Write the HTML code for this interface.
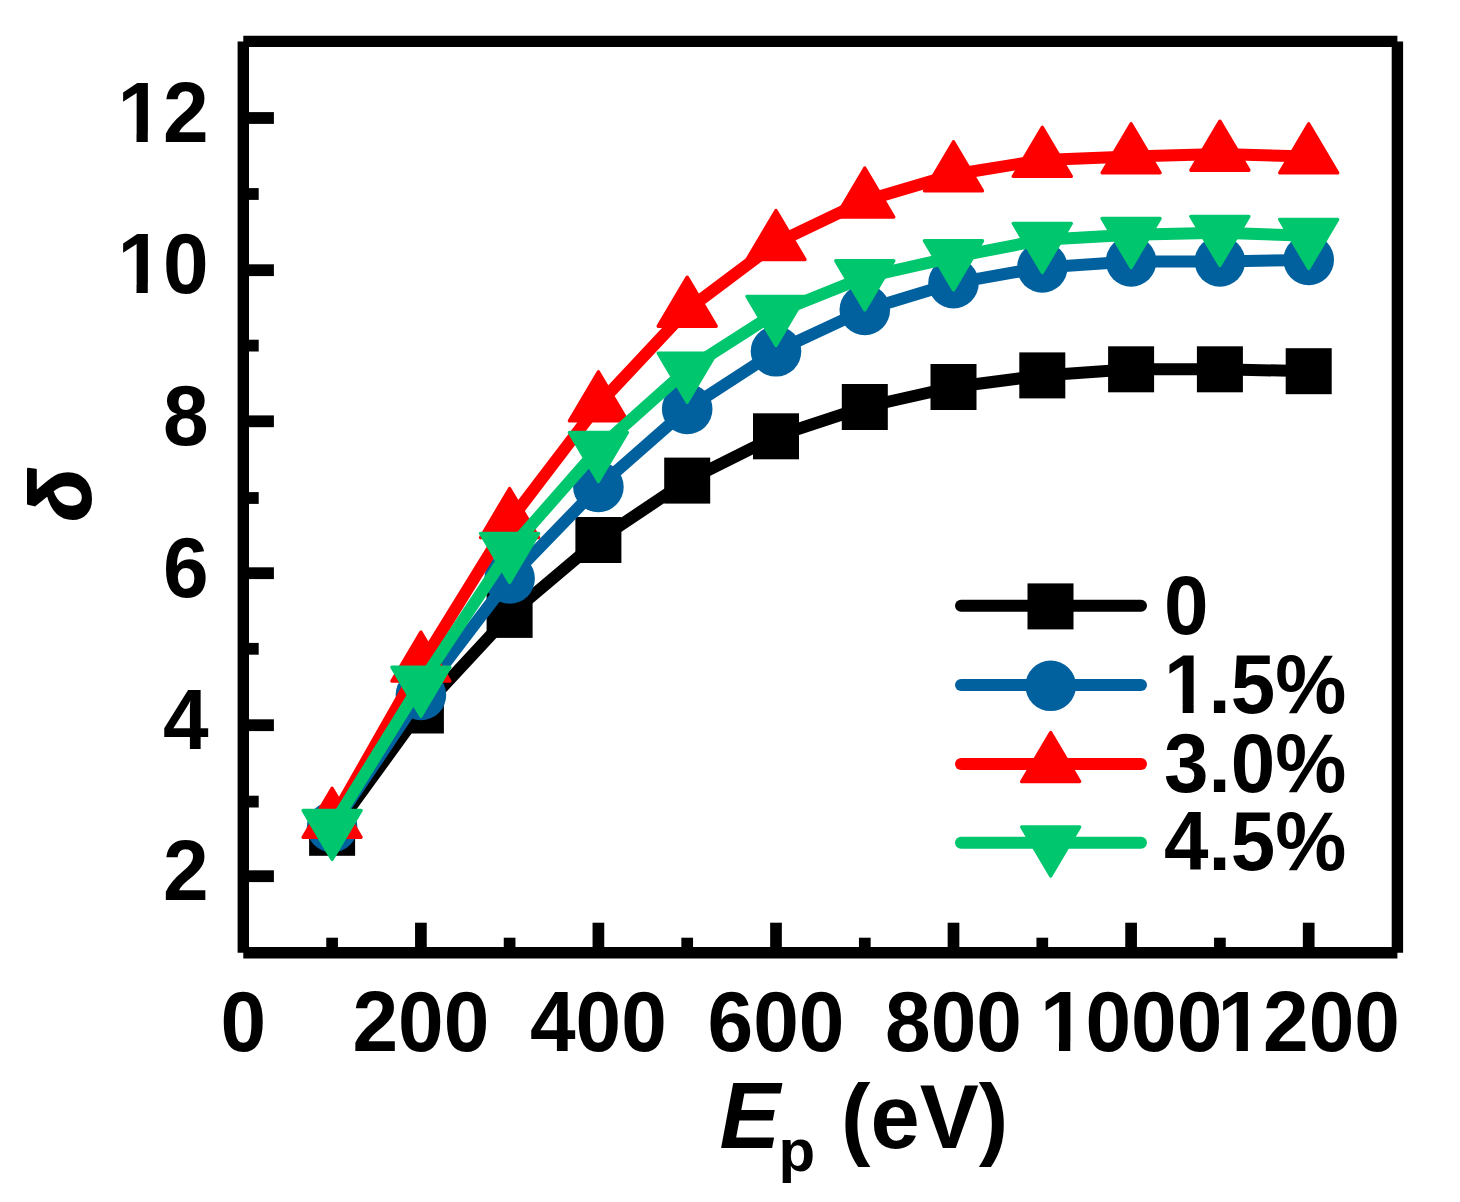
<!DOCTYPE html>
<html><head><meta charset="utf-8"><title>delta vs Ep</title>
<style>
html,body{margin:0;padding:0;background:#fff;}
svg{display:block;}
text{font-family:"Liberation Sans",Arial,Helvetica,sans-serif;font-weight:bold;fill:#000;}
.tk{font-size:82px;}
.lg{font-size:82px;}
.ti{font-size:90px;}
</style></head><body>
<svg width="1460" height="1202" viewBox="0 0 1460 1202">
<rect x="0" y="0" width="1460" height="1202" fill="#fff"/>
<defs><clipPath id="c1" clipPathUnits="userSpaceOnUse"><path clip-rule="evenodd" d="M-400,-200H600V100H-400Z M-87.52,-8.96H-72.07V3H-87.52Z M-60.82,-8.96H-46.52V3H-60.82Z"/></clipPath><clipPath id="c2" clipPathUnits="userSpaceOnUse"><path clip-rule="evenodd" d="M-400,-200H600V100H-400Z M3.60,-8.76H18.67V3H3.60Z M29.65,-8.76H43.60V3H29.65Z"/></clipPath></defs>
<g>
<polyline points="332.1,832.8 420.9,710.5 509.6,614.9 598.4,540.0 687.2,480.6 776.0,436.3 864.8,407.0 953.5,387.0 1042.3,375.4 1131.1,369.3 1219.9,369.3 1308.7,371.2" fill="none" stroke="#000000" stroke-width="12" stroke-linejoin="round" stroke-linecap="round"/>
<rect x="309.1" y="809.8" width="46" height="46" fill="#000000"/>
<rect x="397.9" y="687.5" width="46" height="46" fill="#000000"/>
<rect x="486.6" y="591.9" width="46" height="46" fill="#000000"/>
<rect x="575.4" y="517.0" width="46" height="46" fill="#000000"/>
<rect x="664.2" y="457.6" width="46" height="46" fill="#000000"/>
<rect x="753.0" y="413.3" width="46" height="46" fill="#000000"/>
<rect x="841.8" y="384.0" width="46" height="46" fill="#000000"/>
<rect x="930.5" y="364.0" width="46" height="46" fill="#000000"/>
<rect x="1019.3" y="352.4" width="46" height="46" fill="#000000"/>
<rect x="1108.1" y="346.3" width="46" height="46" fill="#000000"/>
<rect x="1196.9" y="346.3" width="46" height="46" fill="#000000"/>
<rect x="1285.7" y="348.2" width="46" height="46" fill="#000000"/>
<polyline points="332.1,827.2 420.9,695.0 509.6,578.5 598.4,486.9 687.2,409.0 776.0,351.3 864.8,309.9 953.5,283.1 1042.3,267.4 1131.1,261.4 1219.9,261.4 1308.7,259.9" fill="none" stroke="#00619e" stroke-width="12" stroke-linejoin="round" stroke-linecap="round"/>
<circle cx="332.1" cy="827.2" r="25.3" fill="#00619e"/>
<circle cx="420.9" cy="695.0" r="25.3" fill="#00619e"/>
<circle cx="509.6" cy="578.5" r="25.3" fill="#00619e"/>
<circle cx="598.4" cy="486.9" r="25.3" fill="#00619e"/>
<circle cx="687.2" cy="409.0" r="25.3" fill="#00619e"/>
<circle cx="776.0" cy="351.3" r="25.3" fill="#00619e"/>
<circle cx="864.8" cy="309.9" r="25.3" fill="#00619e"/>
<circle cx="953.5" cy="283.1" r="25.3" fill="#00619e"/>
<circle cx="1042.3" cy="267.4" r="25.3" fill="#00619e"/>
<circle cx="1131.1" cy="261.4" r="25.3" fill="#00619e"/>
<circle cx="1219.9" cy="261.4" r="25.3" fill="#00619e"/>
<circle cx="1308.7" cy="259.9" r="25.3" fill="#00619e"/>
<polyline points="332.1,821.0 420.9,664.8 509.6,521.2 598.4,404.6 687.2,309.9 776.0,243.2 864.8,200.7 953.5,174.5 1042.3,160.1 1131.1,156.5 1219.9,153.9 1308.7,156.6" fill="none" stroke="#fe0000" stroke-width="12" stroke-linejoin="round" stroke-linecap="round"/>
<polygon points="332.1,788.3 303.1,837.3 361.1,837.3" fill="#fe0000" stroke="#fe0000" stroke-width="3.4" stroke-linejoin="round"/>
<polygon points="420.9,632.1 391.9,681.1 449.9,681.1" fill="#fe0000" stroke="#fe0000" stroke-width="3.4" stroke-linejoin="round"/>
<polygon points="509.6,488.5 480.6,537.5 538.6,537.5" fill="#fe0000" stroke="#fe0000" stroke-width="3.4" stroke-linejoin="round"/>
<polygon points="598.4,371.9 569.4,420.9 627.4,420.9" fill="#fe0000" stroke="#fe0000" stroke-width="3.4" stroke-linejoin="round"/>
<polygon points="687.2,277.2 658.2,326.2 716.2,326.2" fill="#fe0000" stroke="#fe0000" stroke-width="3.4" stroke-linejoin="round"/>
<polygon points="776.0,210.5 747.0,259.5 805.0,259.5" fill="#fe0000" stroke="#fe0000" stroke-width="3.4" stroke-linejoin="round"/>
<polygon points="864.8,168.0 835.8,217.0 893.8,217.0" fill="#fe0000" stroke="#fe0000" stroke-width="3.4" stroke-linejoin="round"/>
<polygon points="953.5,141.8 924.5,190.8 982.5,190.8" fill="#fe0000" stroke="#fe0000" stroke-width="3.4" stroke-linejoin="round"/>
<polygon points="1042.3,127.4 1013.3,176.4 1071.3,176.4" fill="#fe0000" stroke="#fe0000" stroke-width="3.4" stroke-linejoin="round"/>
<polygon points="1131.1,123.8 1102.1,172.8 1160.1,172.8" fill="#fe0000" stroke="#fe0000" stroke-width="3.4" stroke-linejoin="round"/>
<polygon points="1219.9,121.2 1190.9,170.2 1248.9,170.2" fill="#fe0000" stroke="#fe0000" stroke-width="3.4" stroke-linejoin="round"/>
<polygon points="1308.7,123.9 1279.7,172.9 1337.7,172.9" fill="#fe0000" stroke="#fe0000" stroke-width="3.4" stroke-linejoin="round"/>
<polyline points="332.1,826.7 420.9,683.5 509.6,549.8 598.4,448.8 687.2,369.5 776.0,312.8 864.8,277.1 953.5,257.1 1042.3,239.8 1131.1,234.8 1219.9,232.8 1308.7,235.8" fill="none" stroke="#00c66d" stroke-width="12" stroke-linejoin="round" stroke-linecap="round"/>
<polygon points="332.1,859.4 303.1,810.4 361.1,810.4" fill="#00c66d" stroke="#00c66d" stroke-width="3.4" stroke-linejoin="round"/>
<polygon points="420.9,716.2 391.9,667.2 449.9,667.2" fill="#00c66d" stroke="#00c66d" stroke-width="3.4" stroke-linejoin="round"/>
<polygon points="509.6,582.5 480.6,533.5 538.6,533.5" fill="#00c66d" stroke="#00c66d" stroke-width="3.4" stroke-linejoin="round"/>
<polygon points="598.4,481.5 569.4,432.5 627.4,432.5" fill="#00c66d" stroke="#00c66d" stroke-width="3.4" stroke-linejoin="round"/>
<polygon points="687.2,402.2 658.2,353.2 716.2,353.2" fill="#00c66d" stroke="#00c66d" stroke-width="3.4" stroke-linejoin="round"/>
<polygon points="776.0,345.5 747.0,296.5 805.0,296.5" fill="#00c66d" stroke="#00c66d" stroke-width="3.4" stroke-linejoin="round"/>
<polygon points="864.8,309.8 835.8,260.8 893.8,260.8" fill="#00c66d" stroke="#00c66d" stroke-width="3.4" stroke-linejoin="round"/>
<polygon points="953.5,289.8 924.5,240.8 982.5,240.8" fill="#00c66d" stroke="#00c66d" stroke-width="3.4" stroke-linejoin="round"/>
<polygon points="1042.3,272.5 1013.3,223.5 1071.3,223.5" fill="#00c66d" stroke="#00c66d" stroke-width="3.4" stroke-linejoin="round"/>
<polygon points="1131.1,267.5 1102.1,218.5 1160.1,218.5" fill="#00c66d" stroke="#00c66d" stroke-width="3.4" stroke-linejoin="round"/>
<polygon points="1219.9,265.5 1190.9,216.5 1248.9,216.5" fill="#00c66d" stroke="#00c66d" stroke-width="3.4" stroke-linejoin="round"/>
<polygon points="1308.7,268.5 1279.7,219.5 1337.7,219.5" fill="#00c66d" stroke="#00c66d" stroke-width="3.4" stroke-linejoin="round"/>
</g>
<g stroke="#000" stroke-width="11.4" fill="none" stroke-linecap="butt">
<line x1="243.3" y1="41.4" x2="1397.4" y2="41.4"/>
<line x1="243.3" y1="952.7" x2="1397.4" y2="952.7"/>
<line x1="243.3" y1="41.4" x2="243.3" y2="952.7"/>
<line x1="1397.4" y1="41.4" x2="1397.4" y2="952.7"/>
<line x1="332.1" y1="952.7" x2="332.1" y2="937.7" stroke-width="11.7"/>
<line x1="420.9" y1="952.7" x2="420.9" y2="922.7" stroke-width="11.7"/>
<line x1="509.6" y1="952.7" x2="509.6" y2="937.7" stroke-width="11.7"/>
<line x1="598.4" y1="952.7" x2="598.4" y2="922.7" stroke-width="11.7"/>
<line x1="687.2" y1="952.7" x2="687.2" y2="937.7" stroke-width="11.7"/>
<line x1="776.0" y1="952.7" x2="776.0" y2="922.7" stroke-width="11.7"/>
<line x1="864.8" y1="952.7" x2="864.8" y2="937.7" stroke-width="11.7"/>
<line x1="953.5" y1="952.7" x2="953.5" y2="922.7" stroke-width="11.7"/>
<line x1="1042.3" y1="952.7" x2="1042.3" y2="937.7" stroke-width="11.7"/>
<line x1="1131.1" y1="952.7" x2="1131.1" y2="922.7" stroke-width="11.7"/>
<line x1="1219.9" y1="952.7" x2="1219.9" y2="937.7" stroke-width="11.7"/>
<line x1="1308.7" y1="952.7" x2="1308.7" y2="922.7" stroke-width="11.7"/>
<line x1="243.3" y1="876.2" x2="273.90000000000003" y2="876.2" stroke-width="11.8"/>
<line x1="243.3" y1="801.6" x2="258.7" y2="801.6" stroke-width="11.8"/>
<line x1="243.3" y1="725.2" x2="273.90000000000003" y2="725.2" stroke-width="11.8"/>
<line x1="243.3" y1="648.8" x2="258.7" y2="648.8" stroke-width="11.8"/>
<line x1="243.3" y1="573.2" x2="273.90000000000003" y2="573.2" stroke-width="11.8"/>
<line x1="243.3" y1="498.0" x2="258.7" y2="498.0" stroke-width="11.8"/>
<line x1="243.3" y1="421.3" x2="273.90000000000003" y2="421.3" stroke-width="11.8"/>
<line x1="243.3" y1="345.6" x2="258.7" y2="345.6" stroke-width="11.8"/>
<line x1="243.3" y1="270.2" x2="273.90000000000003" y2="270.2" stroke-width="11.8"/>
<line x1="243.3" y1="194.0" x2="258.7" y2="194.0" stroke-width="11.8"/>
<line x1="243.3" y1="118.0" x2="273.90000000000003" y2="118.0" stroke-width="11.8"/>
</g>
<g class="tk" text-anchor="middle">
<text transform="translate(243.3,1051.3) scale(1,1.036)">0</text>
<text transform="translate(420.9,1051.3) scale(1,1.036)">200</text>
<text transform="translate(598.4,1051.3) scale(1,1.036)">400</text>
<text transform="translate(776.0,1051.3) scale(1,1.036)">600</text>
<text transform="translate(953.5,1051.3) scale(1,1.036)">800</text>
<text clip-path="url(#c1)" transform="translate(1131.1,1051.3) scale(1,1.036)">1000</text>
<text clip-path="url(#c1)" transform="translate(1308.7,1051.3) scale(1,1.036)">1200</text>
</g>
<g class="tk" text-anchor="end">
<text transform="translate(208.6,900.4) scale(1,1.036)">2</text>
<text transform="translate(208.6,748.7) scale(1,1.036)">4</text>
<text transform="translate(208.6,597.0) scale(1,1.036)">6</text>
<text transform="translate(208.6,445.4) scale(1,1.036)">8</text>
<text clip-path="url(#c1)" transform="translate(208.6,292.9) scale(1,1.036)">10</text>
<text clip-path="url(#c1)" transform="translate(208.6,142.0) scale(1,1.036)">12</text>
</g>
<text font-size="91" font-style="italic" transform="translate(719.5,1148) scale(1,1.03)">E</text>
<text font-size="60" transform="translate(778.5,1170.7) scale(1,1.0)">p</text>
<text font-size="88.5" transform="translate(841,1148) scale(1,1.025)">(eV)</text>
<text font-size="86" font-style="italic" text-anchor="middle" stroke="#000" stroke-width="2" stroke-linejoin="round" transform="translate(90.3,495) rotate(-90)">δ</text>
<line x1="961" y1="605.8" x2="1141" y2="605.8" stroke="#000000" stroke-width="12" stroke-linecap="round"/>
<line x1="961" y1="685.1" x2="1141" y2="685.1" stroke="#00619e" stroke-width="12" stroke-linecap="round"/>
<line x1="961" y1="764" x2="1141" y2="764" stroke="#fe0000" stroke-width="12" stroke-linecap="round"/>
<line x1="961" y1="842.7" x2="1141" y2="842.7" stroke="#00c66d" stroke-width="12" stroke-linecap="round"/>
<rect x="1027.5" y="583.4" width="46" height="46" fill="#000000"/>
<circle cx="1050.7" cy="685.8" r="25.3" fill="#00619e"/>
<polygon points="1050.7,732.6 1021.7,781.6 1079.7,781.6" fill="#fe0000" stroke="#fe0000" stroke-width="3.4" stroke-linejoin="round"/>
<polygon points="1050.7,876.0 1021.7,827.0 1079.7,827.0" fill="#00c66d" stroke="#00c66d" stroke-width="3.4" stroke-linejoin="round"/>
<g class="lg">
<text font-size="80" transform="translate(1164,633.5) scale(1,1.045)">0</text>
<text clip-path="url(#c2)" font-size="80" transform="translate(1164,712.8) scale(1,1.045)">1.5%</text>
<text font-size="80" transform="translate(1164,791.7) scale(1,1.045)">3.0%</text>
<text font-size="80" transform="translate(1164,870.4) scale(1,1.045)">4.5%</text>
</g>
</svg></body></html>
